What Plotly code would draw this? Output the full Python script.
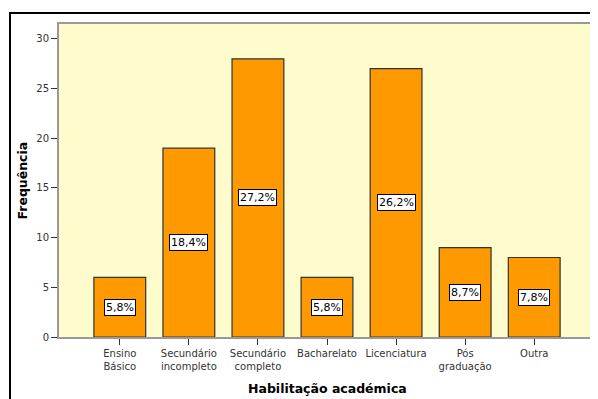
import plotly.graph_objects as go

categories = ["Ensino<br>Básico", "Secundário<br>incompleto", "Secundário<br>completo",
              "Bacharelato", "Licenciatura", "Pós<br>graduação", "Outra"]
frequencies = [6, 19, 28, 6, 27, 9, 8]
percent_labels = ["5,8%", "18,4%", "27,2%", "5,8%", "26,2%", "8,7%", "7,8%"]
y_ticks = [0, 5, 10, 15, 20, 25, 30]

# The page body has an 8px default margin; size the figure to fit the window.
OFF = 8
W, H = 598 - OFF, 399 - OFF
ml, mr, mt, mb = 59 - OFF, 3, 24 - OFF, 62
pw = W - ml - mr
ph = H - mt - mb


def px_to_paper_x(px):
    return (px - OFF - ml) / pw


def px_to_paper_y(py):
    return (H - mb - (py - OFF)) / ph


fig = go.Figure()
fig.add_trace(go.Bar(
    x=list(range(len(categories))),
    y=frequencies,
    width=0.75,
    marker=dict(color="#FF9900", line=dict(color="#333333", width=1.2)),
    hoverinfo="skip",
))

for i, (v, lab) in enumerate(zip(frequencies, percent_labels)):
    fig.add_annotation(
        x=i, y=v / 2, xref="x", yref="y", text=lab, showarrow=False,
        font=dict(family="DejaVu Sans, Verdana, sans-serif", size=11, color="#000000"),
        bgcolor="#FFFFFF", bordercolor="#000000", borderwidth=1, borderpad=1,
    )

# axis titles
fig.add_annotation(
    x=0.5, y=px_to_paper_y(388), xref="paper", yref="paper",
    text="<b>Habilitação académica</b>", showarrow=False,
    xanchor="center", yanchor="middle",
    font=dict(family="DejaVu Sans, Verdana, sans-serif", size=12.5, color="#000000"),
)
fig.add_annotation(
    x=px_to_paper_x(22), y=0.5, xref="paper", yref="paper",
    text="<b>Frequência</b>", showarrow=False, textangle=-90,
    xanchor="center", yanchor="middle",
    font=dict(family="DejaVu Sans, Verdana, sans-serif", size=12.5, color="#000000"),
)

# outer black frame (top and left lines visible)
fig.add_shape(type="rect", xref="paper", yref="paper",
              x0=px_to_paper_x(10), x1=px_to_paper_x(640),
              y0=px_to_paper_y(440), y1=px_to_paper_y(13),
              line=dict(color="#000000", width=2), fillcolor="rgba(0,0,0,0)", layer="below")

fig.update_layout(
    width=W, height=H,
    margin=dict(l=ml, r=mr, t=mt, b=mb, autoexpand=False),
    paper_bgcolor="#FFFFFF",
    plot_bgcolor="#FEFCCC",
    showlegend=False,
    bargap=0.25,
    font=dict(family="DejaVu Sans, Verdana, sans-serif", color="#333333"),
)
fig.update_xaxes(
    automargin=False,
    range=[-0.88, 6.88],
    tickmode="array", tickvals=list(range(len(categories))), ticktext=categories,
    ticks="outside", ticklen=6, tickcolor="#333333", tickwidth=1,
    tickfont=dict(size=10, color="#333333"),
    showline=True, linecolor="#999999", linewidth=2, mirror=True,
    showgrid=False, zeroline=False,
)
fig.update_yaxes(
    automargin=False,
    range=[0, 31.5],
    tickmode="array", tickvals=y_ticks,
    ticks="outside", ticklen=6, tickcolor="#333333", tickwidth=1,
    tickfont=dict(size=10, color="#333333"),
    showline=True, linecolor="#999999", linewidth=2, mirror=True,
    showgrid=False, zeroline=False,
)

fig.write_html("out.html")
